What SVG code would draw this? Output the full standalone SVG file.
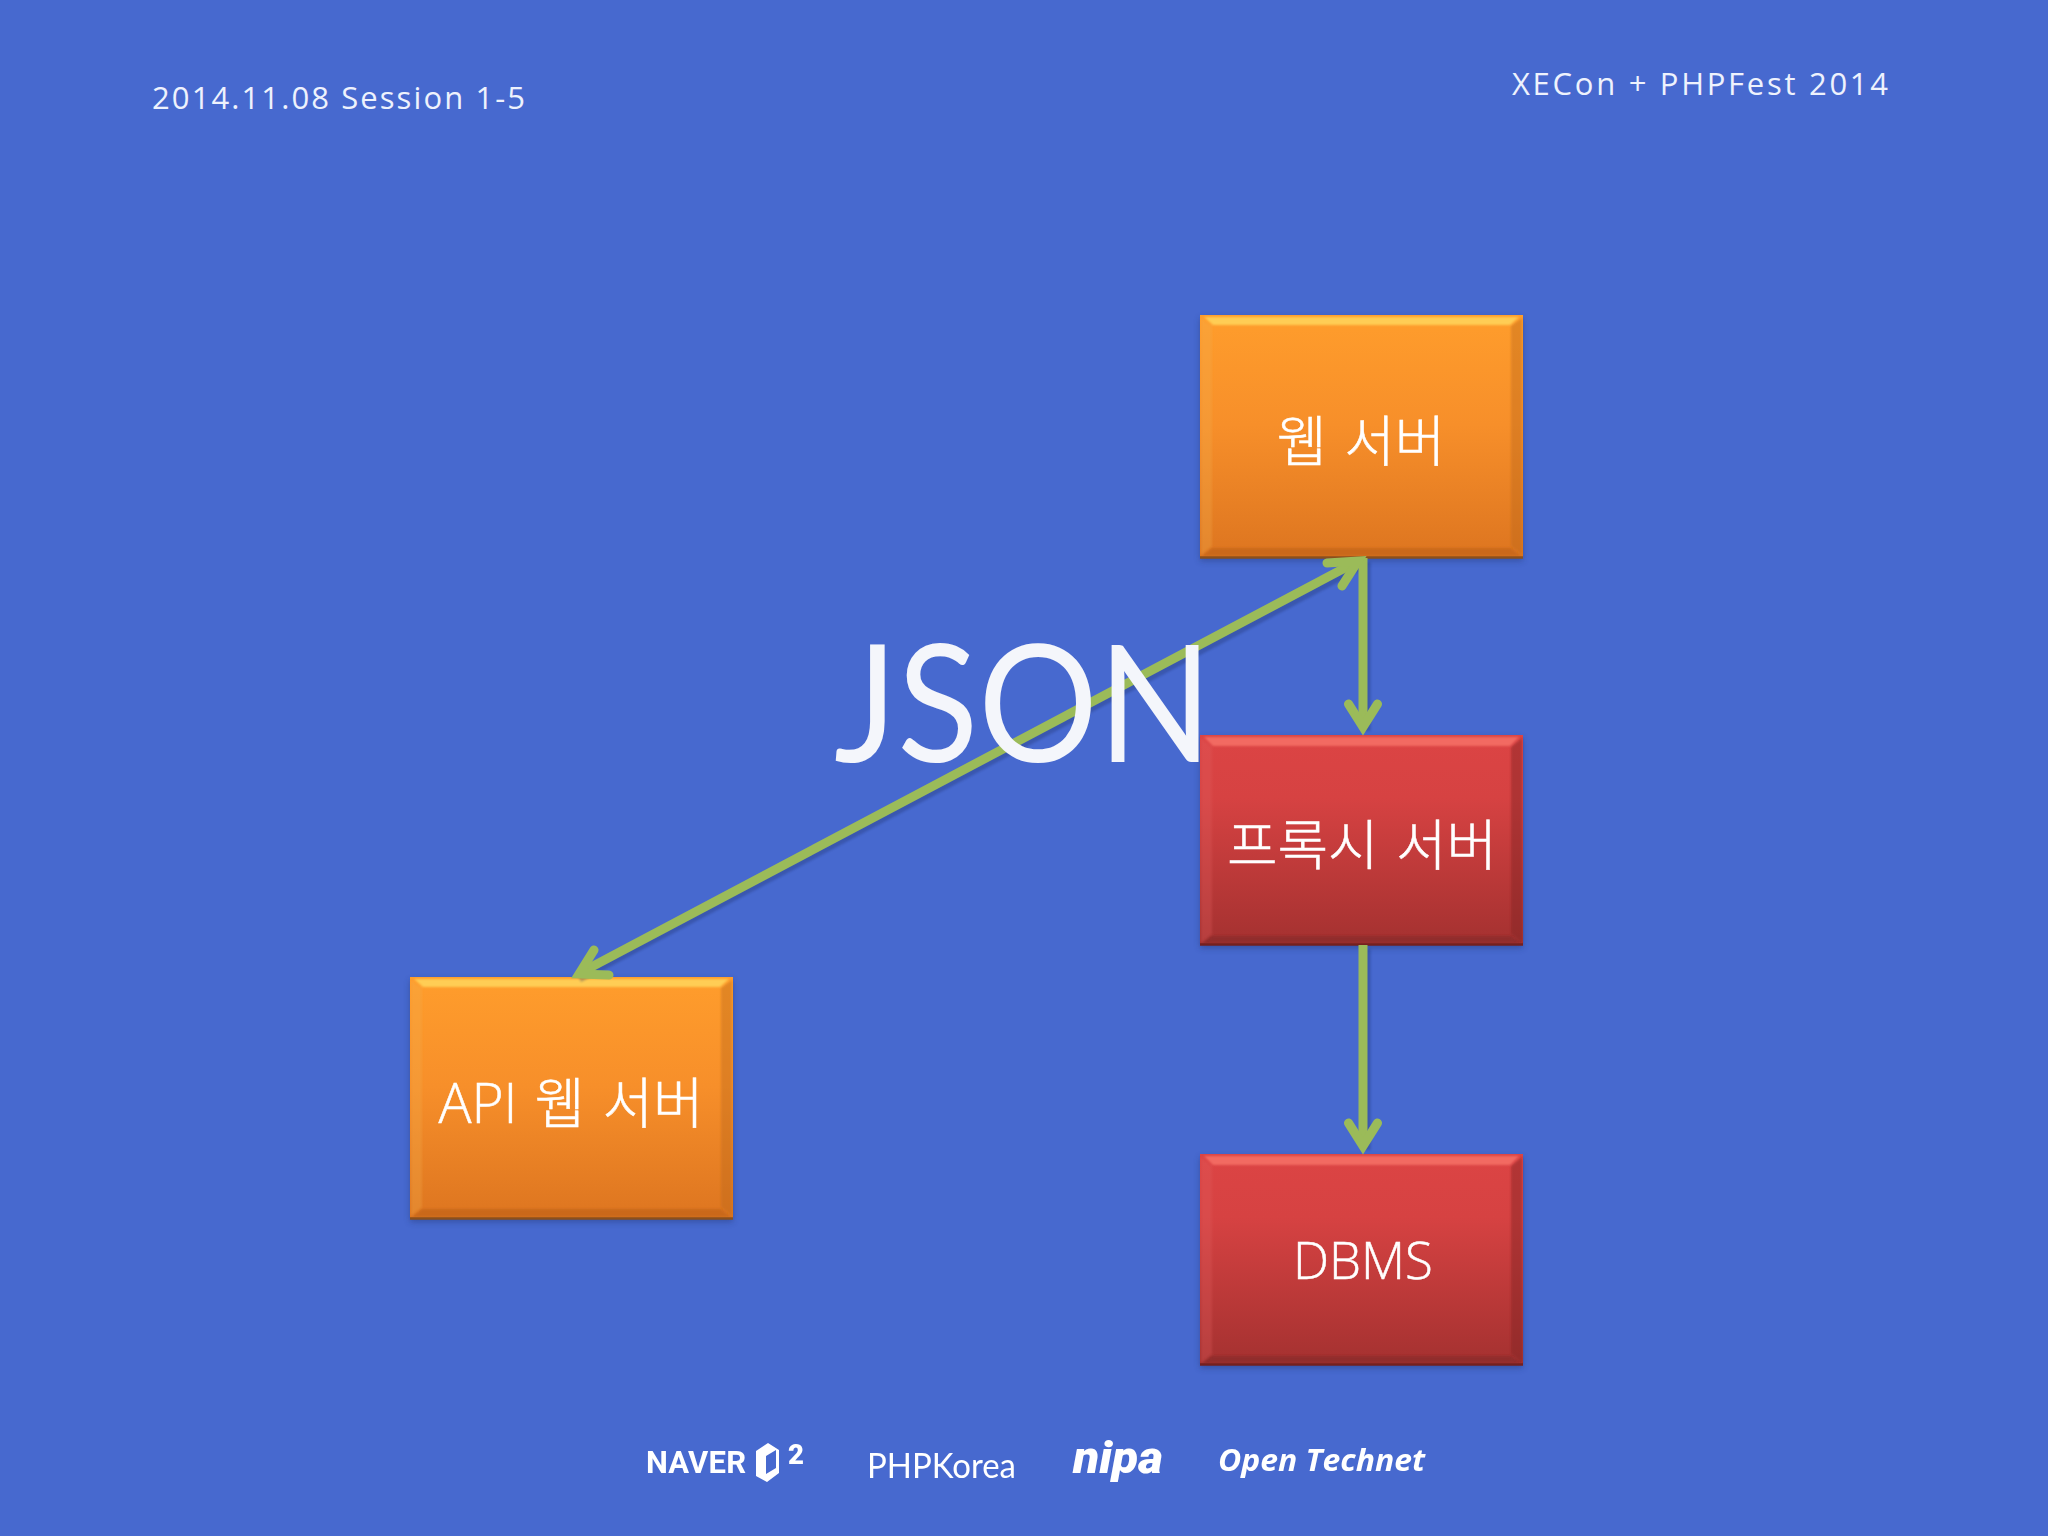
<svg xmlns="http://www.w3.org/2000/svg" width="2048" height="1536" viewBox="0 0 2048 1536">
<style>
.k{font-family:"Open Sans","Noto Sans CJK KR",sans-serif;font-size:51px;text-anchor:middle;fill:#fff;font-weight:300;stroke:#fff;stroke-width:.5}
.k2{font-family:"Noto Sans CJK KR",sans-serif;font-size:55px;text-anchor:middle;fill:#fff;font-weight:300;stroke:#fff;stroke-width:.5;word-spacing:5px}
.h{font-family:"Open Sans",sans-serif;font-size:31px;fill:#eef2fd}
.c{fill:none;stroke:#9bbb59;stroke-width:9}
.hd{fill:none;stroke:#9bbb59;stroke-width:9;stroke-linecap:round;stroke-linejoin:miter}
.sd{fill:#1d2f66;opacity:.4}
</style>
<defs>
<linearGradient id="o" x1="0" y1="0" x2="0" y2="1"><stop offset="0" stop-color="#ff9d2c"/><stop offset=".45" stop-color="#f78f2a"/><stop offset="1" stop-color="#dd7520"/></linearGradient>
<linearGradient id="r" x1="0" y1="0" x2="0" y2="1"><stop offset="0" stop-color="#dc4444"/><stop offset=".3" stop-color="#d64242"/><stop offset="1" stop-color="#a43130"/></linearGradient>
<filter id="sh" x="-10%" y="-10%" width="120%" height="120%"><feGaussianBlur stdDeviation="3"/></filter>
<filter id="bl" x="-20%" y="-20%" width="140%" height="140%"><feGaussianBlur stdDeviation="1.2"/></filter>
<filter id="sf" x="-5%" y="-5%" width="110%" height="110%"><feGaussianBlur stdDeviation="1.1"/></filter>
</defs>
<rect width="2048" height="1536" fill="#4769cf"/>
<text class="h" x="152" y="109" textLength="373">2014.11.08 Session 1-5</text>
<text class="h" x="1512" y="95" textLength="376">XECon + PHPFest 2014</text>

<g id="web-server">
<rect class="sd" x="1200" y="318" width="323" height="243" filter="url(#sh)"/>
<rect x="1200" y="315" width="323" height="243" fill="url(#o)"/>
<g filter="url(#sf)">
<polygon points="1204,317 1519,317 1510,325 1213,325" fill="#ffcd55"/>
<polygon points="1201,318 1212,326 1212,546 1201,555" fill="#f3b04e" opacity=".3"/>
<polygon points="1522,318 1511,326 1511,546 1522,555" fill="#b9681e" opacity=".4"/>
<polygon points="1202,556 1212,548 1511,548 1521,556" fill="#c4651c" opacity=".8"/>
</g>
<path d="M1200 557.500H1523" stroke="#8a4f1c" stroke-width="2.500"/>
<text class="k2" x="1361" y="461">웹 서버</text>
</g>
<g id="api-server">
<rect class="sd" x="410" y="980" width="323" height="242" filter="url(#sh)"/>
<rect x="410" y="977" width="323" height="242" fill="url(#o)"/>
<g filter="url(#sf)">
<polygon points="414,979 729,979 720,987 423,987" fill="#ffcd55"/>
<polygon points="411,980 422,988 422,1207 411,1216" fill="#f3b04e" opacity=".3"/>
<polygon points="732,980 721,988 721,1207 732,1216" fill="#b9681e" opacity=".4"/>
<polygon points="412,1217 422,1209 721,1209 731,1217" fill="#c4651c" opacity=".8"/>
</g>
<path d="M410 1218.500H733" stroke="#8a4f1c" stroke-width="2.500"/>
<text class="k2" x="571" y="1123"><tspan font-family="Open Sans">API</tspan> 웹 서버</text>
</g>
<g id="proxy-server">
<rect class="sd" x="1200" y="738" width="323" height="210" filter="url(#sh)"/>
<rect x="1200" y="735" width="323" height="210" fill="url(#r)"/>
<g filter="url(#sf)">
<polygon points="1204,737 1519,737 1510,746 1213,746" fill="#f26a62"/>
<polygon points="1201,738 1212,747 1212,934 1201,943" fill="#e06060" opacity=".3"/>
<polygon points="1522,738 1511,747 1511,934 1522,943" fill="#7e2524" opacity=".45"/>
<polygon points="1202,943 1212,936 1511,936 1521,943" fill="#8c2b2a" opacity=".8"/>
</g>
<path d="M1200 944.500H1523" stroke="#74201f" stroke-width="2.500"/>
<text class="k2" x="1362" y="865">프록시 서버</text>
</g>
<g id="dbms">
<rect class="sd" x="1200" y="1157" width="323" height="211" filter="url(#sh)"/>
<rect x="1200" y="1154" width="323" height="211" fill="url(#r)"/>
<g filter="url(#sf)">
<polygon points="1204,1156 1519,1156 1510,1165 1213,1165" fill="#f26a62"/>
<polygon points="1201,1157 1212,1166 1212,1354 1201,1363" fill="#e06060" opacity=".3"/>
<polygon points="1522,1157 1511,1166 1511,1354 1522,1363" fill="#7e2524" opacity=".45"/>
<polygon points="1202,1363 1212,1356 1511,1356 1521,1363" fill="#8c2b2a" opacity=".8"/>
</g>
<path d="M1200 1364.500H1523" stroke="#74201f" stroke-width="2.500"/>
<text class="k" x="1363" y="1279">DBMS</text>
</g>

<g id="connectors">
<g opacity=".3" transform="translate(3,4)" filter="url(#bl)">
<path class="c" style="stroke:#1d2f66" d="M1363 558V727M1363 945V1146M1362 559L576 974"/>
</g>
<path class="c" d="M1363 558V727M1363 945V1146M1358 561L580 973"/>
<path class="hd" d="M1348.500 704L1363 727L1377.500 704M1348.500 1123L1363 1146L1377.500 1123M1327 563L1358 561L1342 586M594 950L579 974L609 975"/>
</g>

<text x="834" y="762" font-family="Lato,'Open Sans',sans-serif" font-size="163" textLength="378" lengthAdjust="spacingAndGlyphs" fill="#f4f6fb">JSON</text>

<g id="logos">
<text x="646" y="1473" font-family="Roboto,sans-serif" font-weight="700" font-size="31" fill="#fff" textLength="100">NAVER</text>
<path fill="#fff" fill-rule="evenodd" d="M756 1451L768 1443L779 1450V1473L767 1482L756 1476ZM766 1456V1474L776 1468V1450Z"/>
<text x="788" y="1464" font-family="Roboto,sans-serif" font-weight="900" font-size="27" fill="#fff" textLength="16" lengthAdjust="spacingAndGlyphs">2</text>
<text x="867" y="1478" font-family="Lato,sans-serif" font-size="34" fill="#fff" textLength="149" lengthAdjust="spacingAndGlyphs">PHPKorea</text>
<text x="1073" y="1473" font-family="Roboto,sans-serif" font-weight="900" font-style="italic" font-size="44" fill="#fff" textLength="90" lengthAdjust="spacingAndGlyphs">nipa</text>
<text x="1218" y="1471" font-family="'Open Sans',sans-serif" font-weight="700" font-style="italic" font-size="31" fill="#fff" textLength="207" lengthAdjust="spacingAndGlyphs">Open Technet</text>
</g>
</svg>
